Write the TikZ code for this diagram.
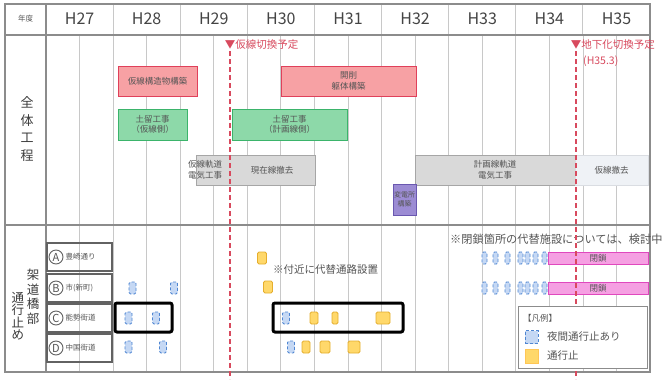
\documentclass[tikz,border=0pt]{standalone}
\usepackage{fontspec}
\setmainfont{Noto Sans CJK JP}
\definecolor{redfill}{HTML}{F7A1A4}
\definecolor{redline}{HTML}{E0405A}
\definecolor{greenfill}{HTML}{8DD9A9}
\definecolor{greenline}{HTML}{3BB46B}
\definecolor{grayfill}{HTML}{D9D9D9}
\definecolor{grayline}{HTML}{A6A6A6}
\definecolor{lightfill}{HTML}{EFF2F6}
\definecolor{lightline}{HTML}{DADDE2}
\definecolor{purplefill}{HTML}{9C8CD4}
\definecolor{purpleline}{HTML}{6A58B0}
\definecolor{pinkfill}{HTML}{F5A0E2}
\definecolor{pinkline}{HTML}{E048BE}
\definecolor{bluefill}{HTML}{C5D8F4}
\definecolor{blueline}{HTML}{4F86D2}
\definecolor{yellowfill}{HTML}{FFD86A}
\definecolor{yellowline}{HTML}{E5AE2E}
\definecolor{cutred}{HTML}{D84A5E}
\definecolor{txt}{HTML}{555555}
\definecolor{gridc}{HTML}{C8C8C8}
\definecolor{framec}{HTML}{8C8C8C}
\tikzset{
  bar/.style={draw, line width=1pt, outer sep=0pt, inner sep=1pt, anchor=north west, align=center, text=txt, font=\fontsize{8.5}{10.5}\selectfont},
  redbox/.style={bar, fill=redfill, draw=redline},
  greenbox/.style={bar, fill=greenfill, draw=greenline},
  graybox/.style={bar, fill=grayfill, draw=grayline},
  lightbox/.style={bar, fill=lightfill, draw=lightline},
  purplebox/.style={bar, fill=purplefill, draw=purpleline, font=\fontsize{7}{8.5}\selectfont},
  pinkbar/.style={bar, fill=pinkfill, draw=pinkline},
  btext/.style={text=txt, align=center, inner sep=0pt, font=\fontsize{8.5}{10.5}\selectfont},
  mk/.style={rounded corners=1.5pt, minimum height=12pt, inner sep=0pt, outer sep=0pt, line width=0.8pt},
  bmark/.style={mk, fill=bluefill, draw=blueline, densely dashed, minimum width=7pt},
  smark/.style={mk, fill=bluefill, draw=blueline, densely dashed, minimum width=5pt},
  ymark/.style={mk, fill=yellowfill, draw=yellowline, minimum width=9pt},
  gridline/.style={draw=gridc, line width=0.8pt},
  cutline/.style={draw=cutred, line width=1.3pt, dash pattern=on 5pt off 3pt},
  cuttext/.style={text=cutred, inner sep=0pt, anchor=west, font=\fontsize{10.5}{12}\selectfont},
  year/.style={text=txt!80!black, font=\fontsize{16}{16}\selectfont},
  vlabel/.style={text=txt!70!black, align=center, inner sep=0pt},
  rowbox/.style={draw=framec!70!black, line width=1.3pt, anchor=north west, outer sep=0pt, minimum width=65pt, minimum height=28pt},
  rcirc/.style={circle, draw=framec!70!black, line width=0.9pt, minimum size=14pt, inner sep=0pt, text=txt, font=\fontsize{11}{11}\selectfont},
  rtext/.style={anchor=west, inner sep=0pt, text=txt, font=\fontsize{7.5}{9}\selectfont},
  hlbox/.style={draw=black, line width=3pt, rounded corners=2pt, anchor=north west, outer sep=0pt},
  note/.style={anchor=west, inner sep=0pt, text=txt, font=\fontsize{10.5}{12}\selectfont},
}
\begin{document}
\begin{tikzpicture}[x=1pt,y=-1pt]
\useasboundingbox[fill=white] (0,0) rectangle (668,380);
% grid
\foreach \k in {1,...,17} {
  \draw[gridline] ({46+33.5556*\k},35) -- ({46+33.5556*\k},372);
}
\foreach \k in {1,...,8} {
  \draw[gridline] ({46+67.111*\k},4) -- ({46+67.111*\k},35);
}
% frame
\draw[framec, line width=1.2pt] (5,4) rectangle (650,372);
\draw[framec, line width=1.2pt] (46,4) -- (46,372);
\draw[framec, line width=2pt] (5,35) -- (650,35);
\draw[framec, line width=1.2pt] (5,225) -- (650,225);
% header
\node[text=txt, font=\fontsize{7.5}{8}\selectfont] (nendo) at (25.5,19) {年度};
\foreach \y [count=\i from 0] in {27,...,35} {
  \node[year] (h\y) at ({46+67.111*(\i+0.5)},19) {H\y};
}
% left labels
\node[vlabel, font=\fontsize{13}{17.7}\selectfont] (zentai) at (27,129) {全\\体\\工\\程};
\node[vlabel, font=\fontsize{12.5}{14.5}\selectfont] (kado) at (33,297) {架\\道\\橋\\部};
\node[vlabel, font=\fontsize{12.5}{12.5}\selectfont] (tsuko) at (18,316) {通\\行\\止\\め};
% schedule bars
\node[redbox, minimum width=79pt, minimum height=30pt] (r1) at (118,66) {仮線構造物構築};
\node[redbox, minimum width=135pt, minimum height=30pt] (r2) at (281,66) {開削\\躯体構築};
\node[greenbox, minimum width=69pt, minimum height=31pt] (g1) at (118,109) {土留工事\\（仮線側）};
\node[greenbox, minimum width=115pt, minimum height=31pt] (g2) at (232,109) {土留工事\\（計画線側）};
\node[graybox, minimum width=119pt, minimum height=30pt] (gy1) at (196,155) {};
\node[btext] (gy1a) at (205,170) {仮線軌道\\電気工事};
\node[btext] (gy1b) at (272,170) {現在線撤去};
\node[graybox, minimum width=160pt, minimum height=30pt] (gy2) at (415,155) {計画線軌道\\電気工事};
\node[lightbox, minimum width=73pt, minimum height=30pt] (lt) at (575,155) {仮線撤去};
\node[purplebox, minimum width=21pt, minimum height=31pt] (pu) at (393,184) {変電所\\構築};
% lower rows
\foreach \n/\t/\l/\s in {a/243/A/豊崎通り, b/274/B/市(新町), c/304/C/能勢街道, d/334/D/中国街道} {
  \node[rowbox] (row\n) at (47,\t) {};
  \node[rcirc] (c\n) at (56,\t+14) {\l};
  \node[rtext] (t\n) at (65.5,\t+14) {\s};
}
% notes
\node[note] (note1) at (273,270) {※付近に代替通路設置};
\node[note, font=\fontsize{11.2}{12}\selectfont] (note2) at (450,239) {※閉鎖箇所の代替施設については、検討中};
% pink closure bars
\node[pinkbar, minimum width=100pt, minimum height=12pt, inner sep=0pt] (pa) at (548,252) {閉鎖};
\node[pinkbar, minimum width=100pt, minimum height=12pt, inner sep=0pt] (pb) at (548,282) {閉鎖};
% marks row A
\node[ymark] (ya1) at (262,258) {};
\foreach \x [count=\i] in {484.5,495.5,507.5,520.5,527.5,535.5,544.5} {
  \node[smark] (sa\i) at (\x,258) {};
  \node[smark] (sb\i) at (\x,288) {};
}
% row B
\node[bmark] (bb1) at (132.5,288) {};
\node[bmark] (bb2) at (174,288) {};
\node[ymark] (yb1) at (268,287) {};
% row C
\node[bmark] (bc1) at (128.5,318) {};
\node[bmark] (bc2) at (156,318) {};
\node[bmark] (bc3) at (286,318) {};
\node[ymark, minimum width=8pt] (yc1) at (314,318) {};
\node[ymark, minimum width=6pt] (yc2) at (335,318) {};
\node[ymark, minimum width=14pt] (yc3) at (383,318) {};
% row D
\node[bmark] (bd1) at (128.5,347) {};
\node[bmark] (bd2) at (163,347) {};
\node[bmark] (bd3) at (291,347) {};
\node[ymark, minimum width=8pt] (yd1) at (306,347) {};
\node[ymark, minimum width=10pt] (yd2) at (325,347) {};
\node[ymark, minimum width=12pt] (yd3) at (354,347) {};
% switch-over lines
\coordinate (k1t) at (230,51);
\coordinate (k1b) at (230,379);
\coordinate (k2t) at (576,51);
\coordinate (k2b) at (576,379);
\draw[cutline] (k1t) -- (k1b);
\draw[cutline] (k2t) -- (k2b);
\node[cuttext] (kt1) at (224.7,45) {▼仮線切換予定};
\node[cuttext] (kt2) at (570.7,45) {▼地下化切換予定};
\node[cuttext] (kt3) at (583,61) {(H35.3)};
% highlight boxes
\node[hlbox, minimum width=57pt, minimum height=29pt] (hl1) at (115,303) {};
\node[hlbox, minimum width=130pt, minimum height=29pt] (hl2) at (273,303) {};
% legend
\node[draw=framec, fill=white, line width=0.9pt, anchor=north west, minimum width=129pt, minimum height=62pt, outer sep=0pt] (leg) at (518,306) {};
\node[note, font=\fontsize{8.5}{10}\selectfont] (legt) at (523,318) {【凡例】};
\node[mk, fill=bluefill, draw=blueline, densely dashed, minimum width=13pt, minimum height=13pt, rounded corners=0pt] (legb) at (531.5,337) {};
\node[note] (legbt) at (547,337) {夜間通行止あり};
\node[mk, fill=yellowfill, draw=yellowfill!80!orange, minimum width=13pt, minimum height=14pt, rounded corners=0pt] (legy) at (531.5,356) {};
\node[note] (legyt) at (547,356) {通行止};
\end{tikzpicture}
\end{document}
